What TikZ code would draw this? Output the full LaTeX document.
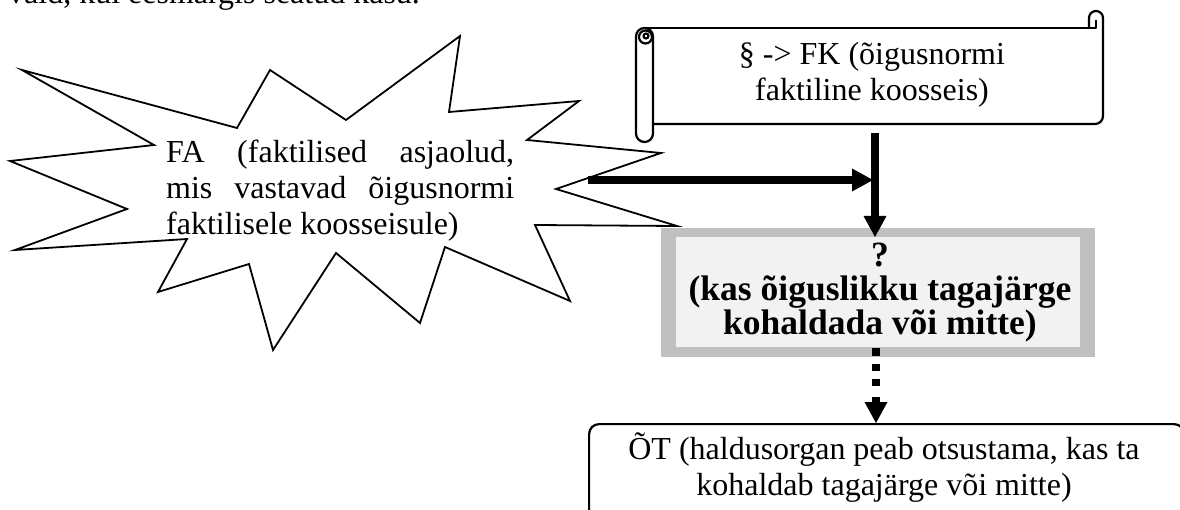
\documentclass[tikz,border=0pt]{standalone}
\usepackage{fontspec}
\setmainfont{Liberation Serif}
\usetikzlibrary{arrows.meta}
\definecolor{framegrey}{HTML}{C0C0C0}
\definecolor{panelgrey}{HTML}{F2F2F2}
\begin{document}
\begin{tikzpicture}[x=1pt,y=-1pt,
  outline/.style={draw=black, line width=2.2pt, line join=round},
  bodytext/.style={font=\fontsize{32}{36}\selectfont, inner sep=0pt},
  boldtext/.style={font=\fontsize{35.5}{34.5}\selectfont\bfseries, inner sep=0pt},
  thick flow/.style={line width=7.5pt},
  headtip/.style={-{Triangle[length=21pt,width=23pt,line width=0pt]}},
]
\useasboundingbox (0,0) rectangle (1180,510);

% running text of the page, cut by the top edge
\node[bodytext, anchor=base west] (lead) at (8,4) {vaid, kui eesmärgis seatud kasu.};

% explosion shape round the facts
\draw[line width=1.8pt, fill=white, line join=miter]
  (22,70) -- (237,128) -- (270,70) -- (346,120) -- (460,36) -- (449,112)
  -- (579,101) -- (527,140) -- (661,153) -- (556,189) -- (677,226)
  -- (535,225) -- (570,301) -- (445,247) -- (420,323) -- (336,253)
  -- (273,350) -- (249,264) -- (158,292) -- (187,239) -- (15,250)
  -- (127,209) -- (10,161) -- (154,145) -- cycle;
% multi-line nodes: base anchor sits on the last line
\node[bodytext, anchor=base west, align=left] (fa) at (166,235)
  {\makebox[348pt][s]{FA (faktilised asjaolud,}\\
   \makebox[348pt][s]{mis vastavad õigusnormi}\\
   faktilisele koosseisule)};

% scroll with the legal norm
\draw[outline] (653,124) -- (1095,124) arc (90:0:8) -- (1103,18)
  arc (0:-180:7) -- (1089,28);
\draw[outline] (644,28) -- (1096,28) -- (1096,20);
\draw[outline, fill=white, rounded corners=8.5pt] (636,28) rectangle (653,142);
\draw[outline] (645.5,37) circle (6.5);
\draw[outline] (646,36) circle (2.5);
\node[bodytext, anchor=base, align=center] (fk) at (872,101)
  {§ -> FK (õigusnormi\\faktiline koosseis)};

% grey question panel
\fill[framegrey] (661,228) rectangle (1095,357);
\node[fill=panelgrey, minimum width=404pt, minimum height=110pt,
  inner sep=0pt, anchor=north west] (q) at (676,237) {};
\node[boldtext, anchor=base, align=center] (qtext) at (880,335)
  {?\\(kas õiguslikku tagajärge\\kohaldada või mitte)};

% legal consequence box
\node[draw, line width=2.2pt, rounded corners=10pt, minimum width=595pt,
  minimum height=110pt, inner sep=0pt, anchor=north west] (ot) at (588,423) {};
\node[bodytext, anchor=base, align=center] (ottext) at (884,495)
  {ÕT (haldusorgan peab otsustama, kas ta\\kohaldab tagajärge või mitte)};

% connectors
\coordinate (fkfoot) at (875,133);
\coordinate (merge) at (873,180);
\coordinate (fastart) at (588,180);
\coordinate (qfoot) at (876,348.5);
\coordinate (dotend) at (876,387);
\draw[thick flow, headtip] (fastart) -- (merge);
\draw[thick flow, headtip] (fkfoot) -- (fkfoot |- q.north);
\draw[thick flow, dash pattern=on 7.5pt off 7.5pt] (qfoot) -- (dotend);
\draw[thick flow, headtip] (876,397) -- (qfoot |- ot.north);
\end{tikzpicture}
\end{document}
